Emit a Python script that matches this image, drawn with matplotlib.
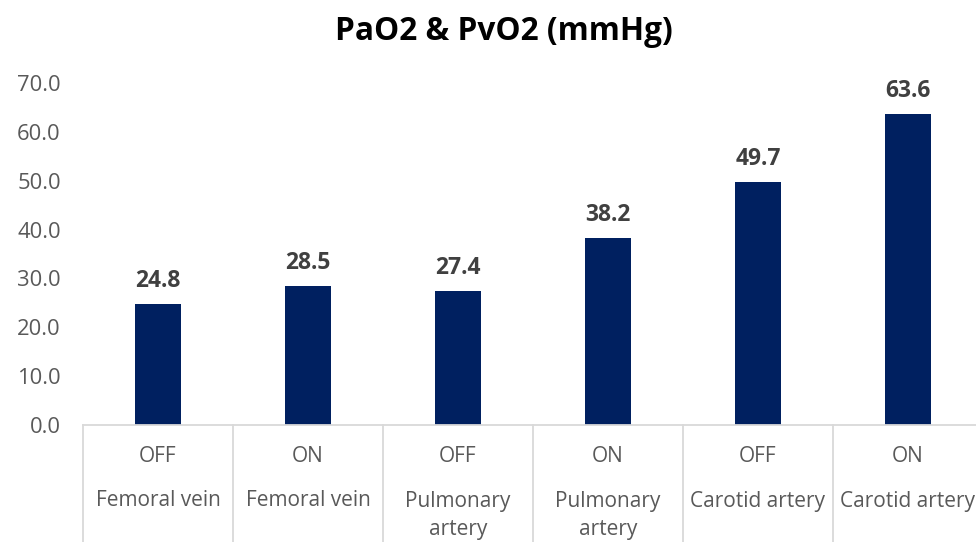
import numpy as np
import matplotlib
matplotlib.use("Agg")
import matplotlib.pyplot as plt
import matplotlib.transforms as mtransforms

# data
status = ["OFF", "ON", "OFF", "ON", "OFF", "ON"]
sites = ["Femoral vein", "Femoral vein", "Pulmonary\nartery",
         "Pulmonary\nartery", "Carotid artery", "Carotid artery"]
values = [24.8, 28.5, 27.4, 38.2, 49.7, 63.6]
yticks = [0, 10, 20, 30, 40, 50, 60, 70]

plt.rcParams['font.family'] = ['Open Sans', 'DejaVu Sans']

W, H = 976, 542
fig = plt.figure(figsize=(W / 100, H / 100), dpi=100)
ax = fig.add_axes([83 / W, (H - 425) / H, 900 / W, (425 - 83) / H])

x = np.arange(len(values)) + 0.5
ax.bar(x, values, width=0.313, color='#002060')
ax.set_xlim(0, len(values))
ax.set_ylim(0, 70)
ax.set_yticks(yticks)
ax.set_yticklabels([f"{t:.1f}" for t in yticks], fontsize=15.8, color='#595959')
ax.tick_params(axis='y', length=0, pad=16)
ax.set_xticks([])

for s in ['top', 'right', 'left']:
    ax.spines[s].set_visible(False)
ax.spines['bottom'].set_color('#d9d9d9')
ax.spines['bottom'].set_linewidth(1.3)

for xi, v in zip(x, values):
    ax.annotate(f"{v:.1f}", (xi, v), xytext=(0, 8), textcoords='offset points',
                ha='center', va='bottom', fontsize=16.5, fontweight='bold',
                color='#404040')

# multi-level category axis
trans = mtransforms.blended_transform_factory(ax.transData, fig.transFigure)
for b in range(len(values) + 1):
    ax.plot([b, b], [(H - 425) / H, 0], transform=trans, color='#d9d9d9',
            lw=1.3, clip_on=False)

for xi, st, si in zip(x, status, sites):
    ax.text(xi, (H - 456) / H, st, transform=trans, ha='center', va='center',
            fontsize=15, color='#595959')
    for k, line in enumerate(si.split('\n')):
        ax.text(xi, (H - 501 - 29 * k) / H, line, transform=trans,
                ha='center', va='center', fontsize=15, color='#595959')

fig.text(504 / W, 1 - 31 / H, "PaO2 & PvO2 (mmHg)", ha='center', va='center',
         fontsize=22.8, fontweight='bold', color='#000000')

fig.savefig("out.png", dpi=100)
